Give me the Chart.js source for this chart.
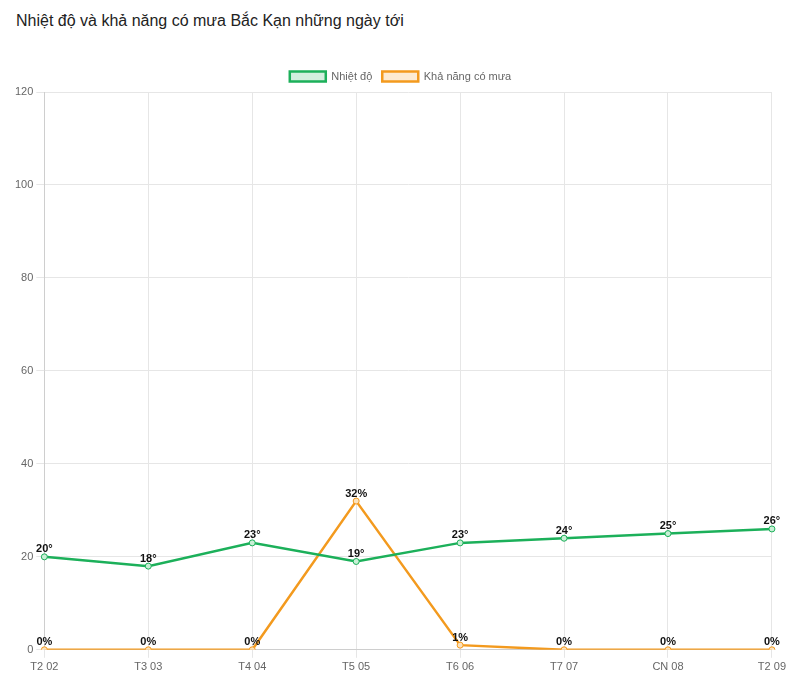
<!DOCTYPE html>
<html>
<head>
<meta charset="utf-8">
<script src="https://cdn.jsdelivr.net/npm/chart.js@4/dist/chart.umd.min.js"></script>
<style>
  body { margin: 0; background: #fff; font-family: "Liberation Sans", Arial, sans-serif; }
  h3 { position: absolute; left: 16px; top: 12px; margin: 0; font-size: 16px; font-weight: normal; color: #222; }
  #wrap { position: absolute; left: 12px; top: 61px; width: 777px; height: 616px; }
</style>
</head>
<body>
<h3>Nhiệt độ và khả năng có mưa Bắc Kạn những ngày tới</h3>
<div id="wrap"><canvas id="weatherChart"></canvas></div>
<script>
var days = ['T2 02', 'T3 03', 'T4 04', 'T5 05', 'T6 06', 'T7 07', 'CN 08', 'T2 09'];
var temps = [20, 18, 23, 19, 23, 24, 25, 26];
var rain = [0, 0, 0, 32, 1, 0, 0, 0];
var yTicks = [0, 20, 40, 60, 80, 100, 120];

// write the value above each point
var pointLabels = {
  id: 'pointLabels',
  afterDatasetsDraw: function(chart) {
    var ctx = chart.ctx;
    ctx.save();
    ctx.font = 'bold 11px "Liberation Sans", Arial, sans-serif';
    ctx.fillStyle = '#111';
    ctx.textAlign = 'center';
    ctx.textBaseline = 'bottom';
    chart.data.datasets.forEach(function(ds, i) {
      var meta = chart.getDatasetMeta(i);
      meta.data.forEach(function(pt, j) {
        ctx.fillText(ds.data[j] + ds.unit, pt.x, pt.y - 2);
      });
    });
    ctx.restore();
  }
};

Chart.defaults.font.family = '"Liberation Sans", Arial, sans-serif';
Chart.defaults.color = '#666';

new Chart(document.getElementById('weatherChart'), {
  type: 'line',
  data: {
    labels: days,
    datasets: [
      {
        label: 'Nhiệt độ',
        unit: '°',
        data: temps,
        borderColor: '#1cb05a',
        backgroundColor: 'rgba(28,176,90,0.2)',
        pointBackgroundColor: '#c9efd6',
        borderWidth: 2.5,
        pointRadius: 3,
        pointBorderWidth: 1,
        fill: false,
        tension: 0
      },
      {
        label: 'Khả năng có mưa',
        unit: '%',
        data: rain,
        borderColor: '#f39a1e',
        backgroundColor: 'rgba(243,154,30,0.2)',
        pointBackgroundColor: '#fbe2bd',
        borderWidth: 2.5,
        pointRadius: 3,
        pointBorderWidth: 1,
        fill: false,
        tension: 0
      }
    ]
  },
  options: {
    responsive: true,
    maintainAspectRatio: false,
    animation: false,
    plugins: {
      legend: {
        position: 'top',
        labels: { boxWidth: 36, boxHeight: 10, font: { size: 11 }, color: '#666' }
      },
      tooltip: { enabled: false }
    },
    scales: {
      x: {
        offset: false,
        grid: { color: '#e6e6e6' },
        ticks: { font: { size: 11 }, maxRotation: 0 }
      },
      y: {
        min: 0,
        max: 120,
        grid: { color: '#e6e6e6' },
        afterBuildTicks: function(axis) {
          axis.ticks = yTicks.map(function(v) { return { value: v }; });
        },
        ticks: { font: { size: 11 } }
      }
    }
  },
  plugins: [pointLabels]
});
</script>
</body>
</html>
